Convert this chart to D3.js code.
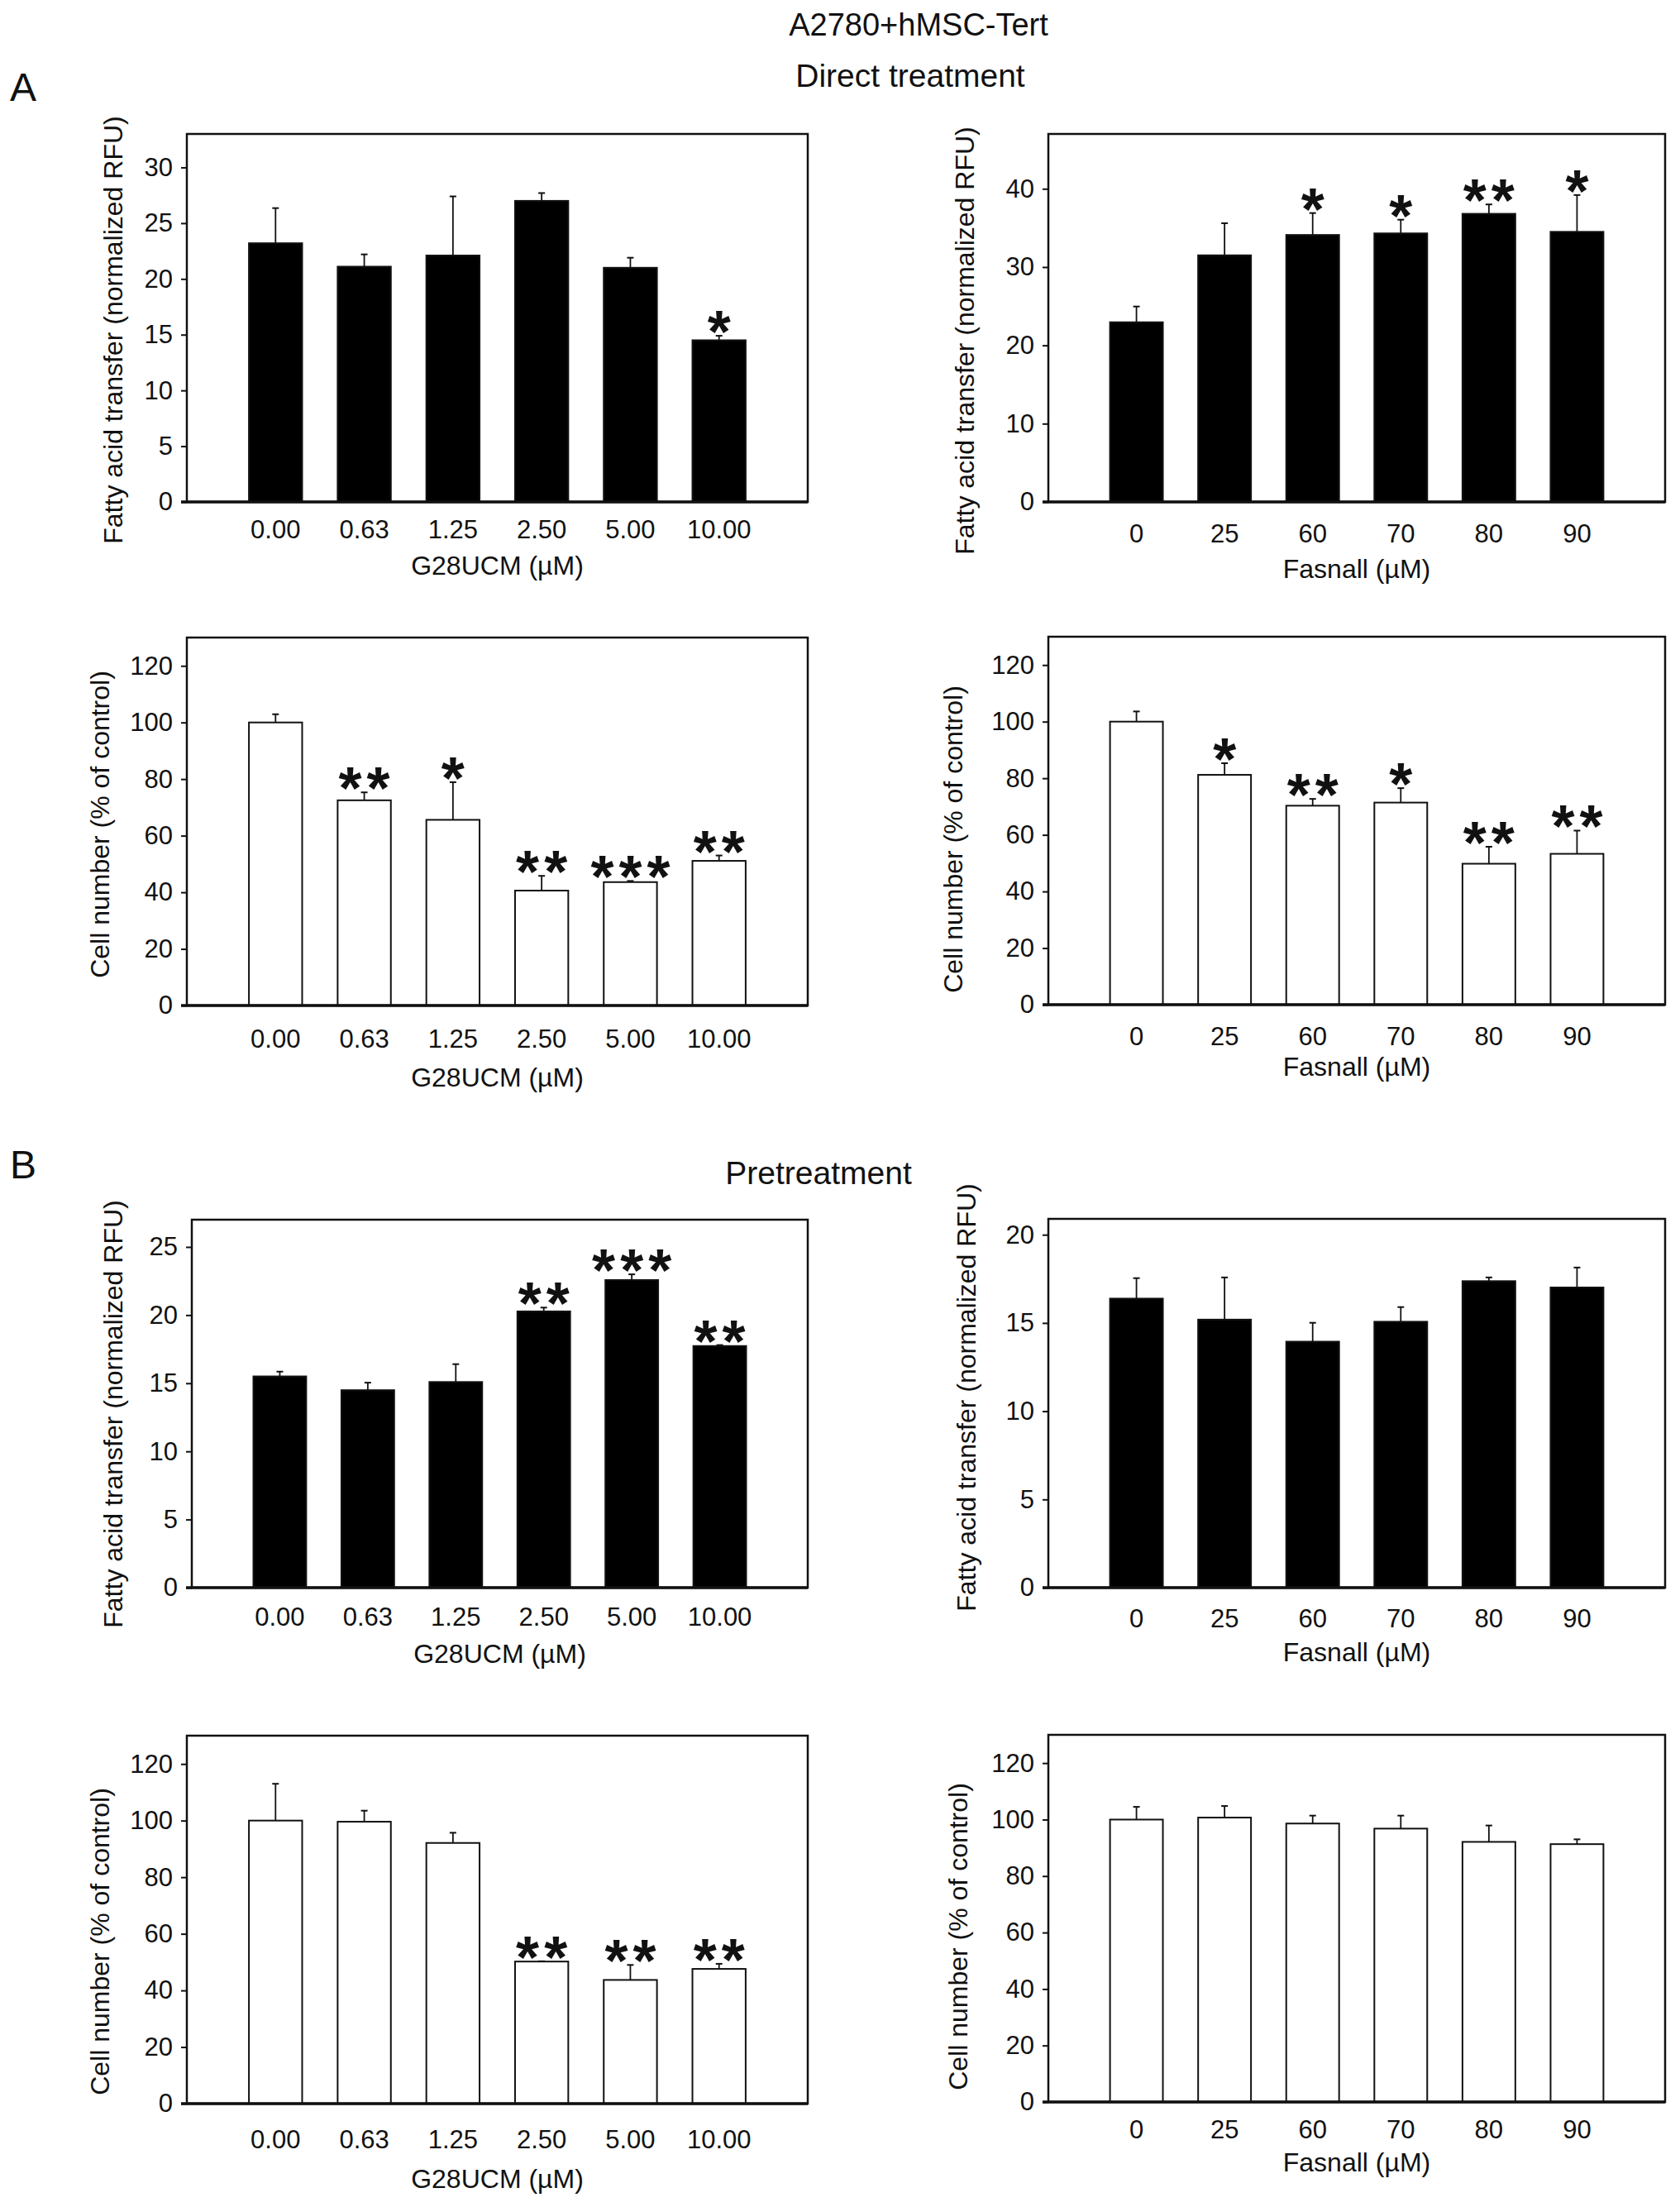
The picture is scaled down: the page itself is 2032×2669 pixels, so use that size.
<!DOCTYPE html>
<html lang="en">
<head>
<meta charset="UTF-8">
<title>A2780+hMSC-Tert</title>
<script src="https://cdnjs.cloudflare.com/ajax/libs/d3/7.8.5/d3.min.js"></script>
<style>
  body { margin: 0; background: #fff; }
  svg text { font-family: "Liberation Sans", Arial, Helvetica, sans-serif; fill: #111; }
</style>
</head>
<body>
<svg id="fig" width="2032" height="2669"></svg>
<script>
// x categories
const g28Doses = ["0.00", "0.63", "1.25", "2.50", "5.00", "10.00"];
const fasDoses = ["0", "25", "60", "70", "80", "90"];

// A - direct treatment
const directFaG28 = [23.2, 21.1, 22.1, 27.0, 21.0, 14.5];
const directFaG28Err = [26.35, 22.2, 27.4, 27.7, 21.9, 14.9];
const directFaG28Sig = ["", "", "", "", "", "*"];

const directFaFas = [22.95, 31.5, 34.1, 34.3, 36.8, 34.5];
const directFaFasErr = [24.96, 35.6, 36.9, 36.05, 38.0, 39.2];
const directFaFasSig = ["", "", "*", "*", "**", "*"];

const directCellG28 = [100, 72.5, 65.6, 40.6, 43.6, 51.1];
const directCellG28Err = [102.9, 75.3, 78.9, 45.8, 44.0, 53.0];
const directCellG28Sig = ["", "**", "*", "**", "***", "**"];

const directCellFas = [100, 81.2, 70.3, 71.4, 49.8, 53.3];
const directCellFasErr = [103.6, 85.3, 72.7, 76.5, 55.8, 61.5];
const directCellFasSig = ["", "*", "**", "*", "**", "**"];

// B - pretreatment
const preFaG28 = [15.5, 14.49, 15.09, 20.27, 22.57, 17.73];
const preFaG28Err = [15.85, 15.04, 16.4, 20.55, 22.99, 17.8];
const preFaG28Sig = ["", "", "", "**", "***", "**"];

const preFaFas = [16.38, 15.19, 13.94, 15.07, 17.37, 17.01];
const preFaFasErr = [17.54, 17.58, 15.01, 15.9, 17.58, 18.14];
const preFaFasSig = ["", "", "", "", "", ""];

const preCellG28 = [100, 99.6, 92.1, 50.2, 43.7, 47.6];
const preCellG28Err = [113.0, 103.5, 95.7, 50.3, 49.0, 49.4];
const preCellG28Sig = ["", "", "", "**", "**", "**"];

const preCellFas = [100, 100.7, 98.6, 96.8, 92.1, 91.3];
const preCellFasErr = [104.5, 104.8, 101.4, 101.4, 97.9, 93.0];
const preCellFasSig = ["", "", "", "", "", ""];

const faLabel = "Fatty acid transfer (normalized RFU)";
const cellLabel = "Cell number (% of control)";
const g28Title = "G28UCM (\u00b5M)";
const fasTitle = "Fasnall (\u00b5M)";

// panel layout (pixels)
const panels = [
  { vals: directFaG28, errs: directFaG28Err, sig: directFaG28Sig, cats: g28Doses, xt: g28Title, yt: faLabel, fill: "#000",
    l: 226, r: 977, t: 162, b: 607, yMax: 33, step: 5, top: 30, lx: 137, ly: 399, tb: 44, ttb: 88 },
  { vals: directFaFas, errs: directFaFasErr, sig: directFaFasSig, cats: fasDoses, xt: fasTitle, yt: faLabel, fill: "#000",
    l: 1268, r: 2014, t: 162, b: 607, yMax: 47, step: 10, top: 40, lx: 1167, ly: 412, tb: 49, ttb: 92 },
  { vals: directCellG28, errs: directCellG28Err, sig: directCellG28Sig, cats: g28Doses, xt: g28Title, yt: cellLabel, fill: "#fff",
    l: 226, r: 977, t: 771, b: 1216, yMax: 130, step: 20, top: 120, lx: 121, ly: 997, tb: 51, ttb: 98 },
  { vals: directCellFas, errs: directCellFasErr, sig: directCellFasSig, cats: fasDoses, xt: fasTitle, yt: cellLabel, fill: "#fff",
    l: 1268, r: 2014, t: 770, b: 1215, yMax: 130, step: 20, top: 120, lx: 1153, ly: 1015, tb: 49, ttb: 86 },
  { vals: preFaG28, errs: preFaG28Err, sig: preFaG28Sig, cats: g28Doses, xt: g28Title, yt: faLabel, fill: "#000",
    l: 232, r: 977, t: 1475, b: 1920, yMax: 27, step: 5, top: 25, lx: 137, ly: 1710, tb: 46, ttb: 91 },
  { vals: preFaFas, errs: preFaFasErr, sig: preFaFasSig, cats: fasDoses, xt: fasTitle, yt: faLabel, fill: "#000",
    l: 1268, r: 2014, t: 1474, b: 1920, yMax: 20.9, step: 5, top: 20, lx: 1169, ly: 1690, tb: 48, ttb: 89 },
  { vals: preCellG28, errs: preCellG28Err, sig: preCellG28Sig, cats: g28Doses, xt: g28Title, yt: cellLabel, fill: "#fff",
    l: 226, r: 977, t: 2099, b: 2544, yMax: 130, step: 20, top: 120, lx: 121, ly: 2348, tb: 54, ttb: 102 },
  { vals: preCellFas, errs: preCellFasErr, sig: preCellFasSig, cats: fasDoses, xt: fasTitle, yt: cellLabel, fill: "#fff",
    l: 1268, r: 2014, t: 2098, b: 2542, yMax: 130, step: 20, top: 120, lx: 1159, ly: 2342, tb: 44, ttb: 84 }
];

const svg = d3.select("#fig");
svg.append("rect").attr("width", 2032).attr("height", 2669).attr("fill", "#fff");

// headings
svg.append("text").attr("x", 1111).attr("y", 43).attr("text-anchor", "middle")
  .style("font-size", "38px").text("A2780+hMSC-Tert");
svg.append("text").attr("x", 1101).attr("y", 105).attr("text-anchor", "middle")
  .style("font-size", "39px").text("Direct treatment");
svg.append("text").attr("x", 990).attr("y", 1432).attr("text-anchor", "middle")
  .style("font-size", "39px").text("Pretreatment");
svg.append("text").attr("x", 12).attr("y", 122).style("font-size", "48px").text("A");
svg.append("text").attr("x", 12).attr("y", 1425).style("font-size", "48px").text("B");

panels.forEach(p => {
  const g = svg.append("g");
  const x = d3.scaleLinear().domain([0, p.cats.length + 1]).range([p.l, p.r]);
  const y = d3.scaleLinear().domain([0, p.yMax]).range([p.b, p.t]);
  const bw = (x(1) - x(0)) * 0.6;
  const rows = p.vals.map((v, i) => ({ v, e: p.errs[i], s: p.sig[i], c: p.cats[i], i }));

  // y axis
  const yAxis = d3.axisLeft(y)
    .tickValues(d3.range(0, p.top + 0.001, p.step))
    .tickSize(7).tickPadding(10);
  const ya = g.append("g").attr("transform", `translate(${p.l},0)`).call(yAxis);
  ya.select(".domain").remove();
  ya.selectAll(".tick line").attr("stroke", "#111").attr("stroke-width", 2);
  ya.selectAll(".tick text").style("font-size", "31px").style("font-family", "'Liberation Sans', Arial, sans-serif").attr("fill", "#111");

  // error bars (upper only)
  g.selectAll(".err").data(rows).join("line")
    .attr("x1", d => x(d.i + 1)).attr("x2", d => x(d.i + 1))
    .attr("y1", d => y(d.v)).attr("y2", d => y(d.e))
    .attr("stroke", "#111").attr("stroke-width", 1.8);
  g.selectAll(".cap").data(rows).join("line")
    .attr("x1", d => x(d.i + 1) - 4).attr("x2", d => x(d.i + 1) + 4)
    .attr("y1", d => y(d.e)).attr("y2", d => y(d.e))
    .attr("stroke", "#111").attr("stroke-width", 2);

  // bars
  g.selectAll(".bar").data(rows).join("rect")
    .attr("x", d => x(d.i + 1) - bw / 2).attr("width", bw)
    .attr("y", d => y(d.v)).attr("height", d => y(0) - y(d.v))
    .attr("fill", p.fill).attr("stroke", "#111").attr("stroke-width", 2);

  // frame
  g.append("rect").attr("x", p.l).attr("y", p.t).attr("width", p.r - p.l).attr("height", p.b - p.t)
    .attr("fill", "none").attr("stroke", "#111").attr("stroke-width", 2.5);
  g.append("line").attr("x1", p.l - 7).attr("x2", p.r).attr("y1", p.b).attr("y2", p.b)
    .attr("stroke", "#111").attr("stroke-width", 3.5);

  // category labels
  g.selectAll(".cat").data(rows).join("text")
    .attr("x", d => x(d.i + 1)).attr("y", p.b + p.tb)
    .attr("text-anchor", "middle").style("font-size", "31px").text(d => d.c);

  // significance stars
  g.selectAll(".sig").data(rows.filter(d => d.s)).join("text")
    .attr("x", d => x(d.i + 1) + 3).attr("y", d => y(d.e) + 20)
    .attr("text-anchor", "middle").style("font-size", "72px").style("font-weight", "bold")
    .style("letter-spacing", "6px")
    .text(d => d.s);

  // axis titles
  g.append("text").attr("x", (p.l + p.r) / 2).attr("y", p.b + p.ttb)
    .attr("text-anchor", "middle").style("font-size", "32px").text(p.xt);
  g.append("text").attr("transform", `translate(${p.lx},${p.ly}) rotate(-90)`)
    .attr("text-anchor", "middle").attr("dy", "0.35em").style("font-size", "32px").text(p.yt);
});
</script>
</body>
</html>
